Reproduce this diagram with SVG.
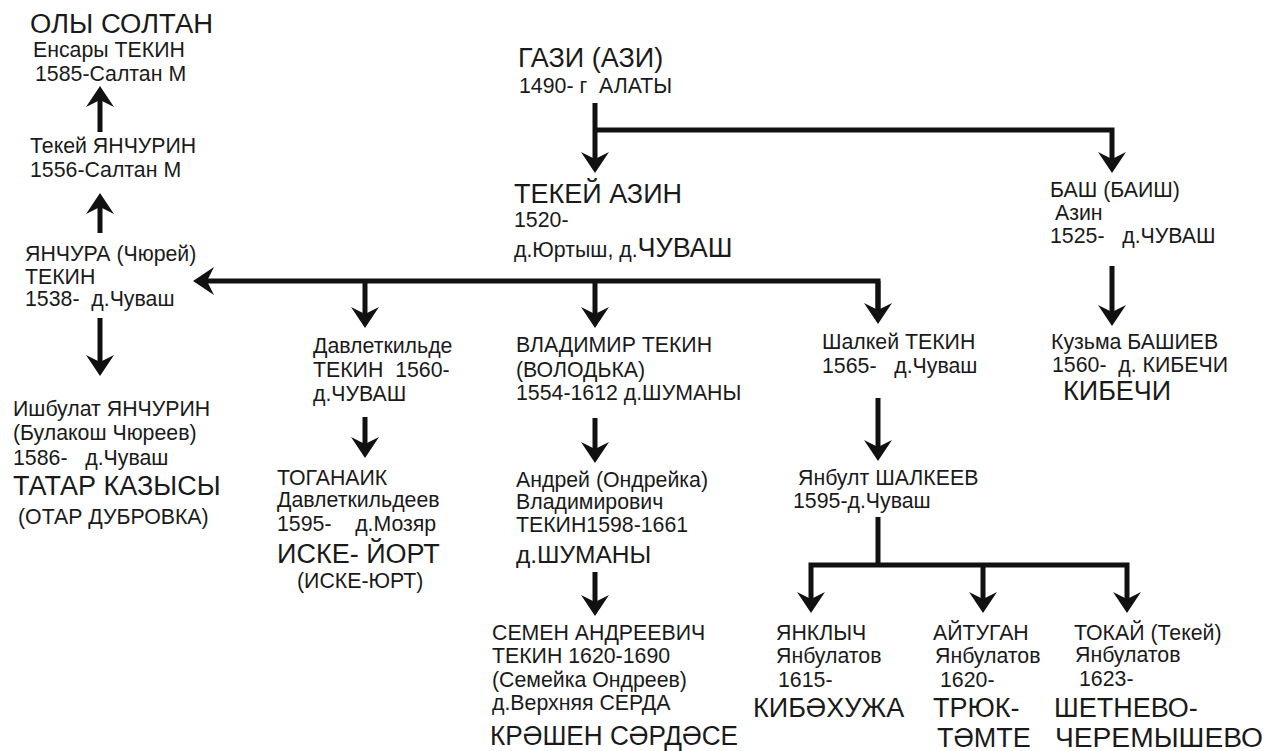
<svg xmlns="http://www.w3.org/2000/svg" width="1268" height="751" viewBox="0 0 1268 751">
<style>
text{font-family:"Liberation Sans",Arial,sans-serif;fill:#1a1a1a;white-space:pre}
.s{font-size:21.3px}
.b{font-size:27px}
.m{font-size:24.5px}
.ln{fill:none;stroke:#111;stroke-width:5;stroke-linejoin:miter}
.ar{marker-end:url(#ah)}
</style>
<defs>
<marker id="ah" markerUnits="userSpaceOnUse" markerWidth="40" markerHeight="40" refX="0" refY="0" orient="auto" overflow="visible">
<path d="M14,0 L-7,-14 L0,0 L-7,14 Z" fill="#111"/>
</marker>
</defs>
<rect width="1268" height="751" fill="#ffffff"/>

<g id="connectors">
<path class="ln ar" d="M100,132 V100"/>
<path class="ln ar" d="M100,233 V207"/>
<path class="ln ar" d="M100,318 V362"/>
<path class="ln ar" d="M595,103 V159"/>
<path class="ln ar" d="M595,130 H1112 V159"/>
<path class="ln ar" d="M1112,266 V312"/>
<path class="ln ar" d="M878,310 V281 H207"/>
<path class="ln ar" d="M878,281 V310"/>
<path class="ln ar" d="M365,281 V314"/>
<path class="ln ar" d="M595,281 V314"/>
<path class="ln ar" d="M365,417 V444"/>
<path class="ln ar" d="M595,418 V449"/>
<path class="ln ar" d="M595,572 V602"/>
<path class="ln ar" d="M878,398 V447"/>
<path class="ln" d="M878,517 V565"/>
<path class="ln ar" d="M983,565 V599"/>
<path class="ln ar" d="M878,565 H811 V599"/>
<path class="ln ar" d="M878,565 H1127 V599"/>
</g>

<g id="n-oly-soltan">
<text class="b" x="30" y="33" textLength="183" lengthAdjust="spacingAndGlyphs">ОЛЫ СОЛТАН</text>
<text class="s" x="33" y="57">Енсары ТЕКИН</text>
<text class="s" x="35" y="81">1585-Салтан М</text>
</g>
<g id="n-tekey-yanchurin">
<text class="s" x="30" y="153">Текей ЯНЧУРИН</text>
<text class="s" x="30" y="177">1556-Салтан М</text>
</g>
<g id="n-yanchura">
<text class="s" x="25" y="261">ЯНЧУРА (Чюрей)</text>
<text class="s" x="25" y="284">ТЕКИН</text>
<text class="s" x="25" y="306">1538-  д.Чуваш</text>
</g>
<g id="n-ishbulat">
<text class="s" x="13" y="416">Ишбулат ЯНЧУРИН</text>
<text class="s" x="13" y="440">(Булакош Чюреев)</text>
<text class="s" x="13" y="465">1586-   д.Чуваш</text>
<text class="b" x="13" y="495">ТАТАР КАЗЫСЫ</text>
<text class="s" x="18" y="524">(ОТАР ДУБРОВКА)</text>
</g>
<g id="n-gazi">
<text class="b" x="518" y="67">ГАЗИ (АЗИ)</text>
<text class="s" x="519" y="93">1490- г  АЛАТЫ</text>
</g>
<g id="n-tekey-azin">
<text class="b" x="514" y="203">ТЕКЕЙ АЗИН</text>
<text class="s" x="514" y="227">1520-</text>
<text class="s" x="514" y="257">д.Юртыш, д.<tspan class="b">ЧУВАШ</tspan></text>
</g>
<g id="n-bash">
<text class="s" x="1050" y="197">БАШ (БАИШ)</text>
<text class="s" x="1055" y="220">Азин</text>
<text class="s" x="1050" y="243">1525-   д.ЧУВАШ</text>
</g>
<g id="n-kuzma">
<text class="s" x="1051" y="349">Кузьма БАШИЕВ</text>
<text class="s" x="1052" y="372">1560-  д. КИБЕЧИ</text>
<text class="b" x="1063" y="400">КИБЕЧИ</text>
</g>
<g id="n-davletkilde">
<text class="s" x="313" y="353">Давлеткильде</text>
<text class="s" x="313" y="377">ТЕКИН  1560-</text>
<text class="s" x="313" y="401">д.ЧУВАШ</text>
</g>
<g id="n-toganaik">
<text class="s" x="277" y="485">ТОГАНАИК</text>
<text class="s" x="277" y="507">Давлеткильдеев</text>
<text class="s" x="277" y="531">1595-    д.Мозяр</text>
<text class="b" x="277" y="563">ИСКЕ- ЙОРТ</text>
<text class="s" x="297" y="588">(ИСКЕ-ЮРТ)</text>
</g>
<g id="n-vladimir">
<text class="s" x="516" y="352">ВЛАДИМИР ТЕКИН</text>
<text class="s" x="516" y="377">(ВОЛОДЬКА)</text>
<text class="s" x="516" y="400">1554-1612 д.ШУМАНЫ</text>
</g>
<g id="n-andrey">
<text class="s" x="516" y="487">Андрей (Ондрейка)</text>
<text class="s" x="516" y="509">Владимирович</text>
<text class="s" x="516" y="532">ТЕКИН1598-1661</text>
<text class="m" x="516" y="563">д.ШУМАНЫ</text>
</g>
<g id="n-semen">
<text class="s" x="492" y="640">СЕМЕН АНДРЕЕВИЧ</text>
<text class="s" x="492" y="663">ТЕКИН 1620-1690</text>
<text class="s" x="492" y="687">(Семейка Ондреев)</text>
<text class="s" x="492" y="710">д.Верхняя СЕРДА</text>
<text class="b" x="490" y="745" textLength="248" lengthAdjust="spacingAndGlyphs">КРӘШЕН СӘРДӘСЕ</text>
</g>
<g id="n-shalkey">
<text class="s" x="822" y="349">Шалкей ТЕКИН</text>
<text class="s" x="822" y="373">1565-   д.Чуваш</text>
</g>
<g id="n-yanbult">
<text class="s" x="798" y="485">Янбулт ШАЛКЕЕВ</text>
<text class="s" x="793" y="508">1595-д.Чуваш</text>
</g>
<g id="n-yanklych">
<text class="s" x="776" y="640">ЯНКЛЫЧ</text>
<text class="s" x="776" y="663">Янбулатов</text>
<text class="s" x="778" y="687">1615-</text>
<text class="b" x="753" y="717">КИБӘХУЖА</text>
</g>
<g id="n-aytugan">
<text class="s" x="933" y="640">АЙТУГАН</text>
<text class="s" x="935" y="663">Янбулатов</text>
<text class="s" x="940" y="687">1620-</text>
<text class="b" x="933" y="717">ТРЮК-</text>
<text class="b" x="937" y="747">ТӘМТЕ</text>
</g>
<g id="n-tokay">
<text class="s" x="1074" y="640">ТОКАЙ (Текей)</text>
<text class="s" x="1075" y="662">Янбулатов</text>
<text class="s" x="1079" y="686">1623-</text>
<text class="b" x="1054" y="717">ШЕТНЕВО-</text>
<text class="b" x="1055" y="747" textLength="208" lengthAdjust="spacingAndGlyphs">ЧЕРЕМЫШЕВО</text>
</g>
</svg>
